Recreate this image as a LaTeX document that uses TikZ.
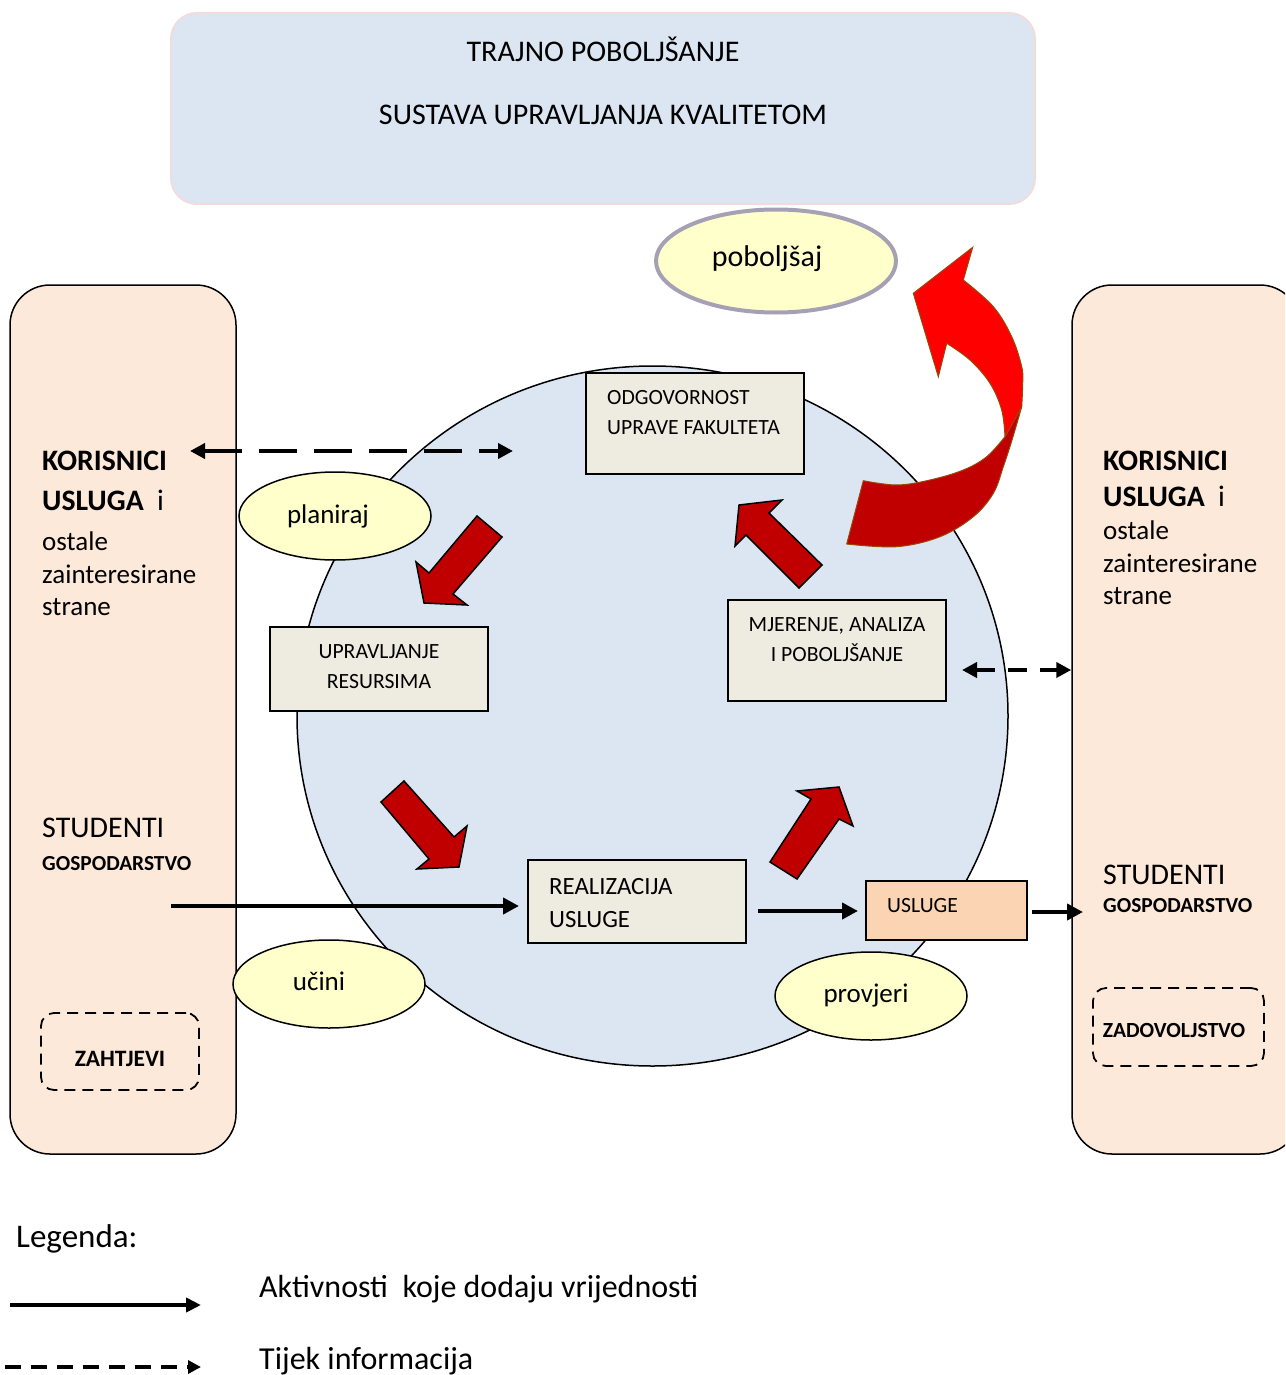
\documentclass[tikz,border=0pt]{standalone}
\usepackage{fontspec}
\setmainfont{Carlito}
\usetikzlibrary{arrows.meta,shapes.geometric}
\definecolor{bluefill}{HTML}{DCE6F2}
\definecolor{peach}{HTML}{FDE9D9}
\definecolor{yel}{HTML}{FFFFCC}
\definecolor{boxfill}{HTML}{EEECE1}
\definecolor{uslfill}{HTML}{FBD4B4}
\definecolor{darkred}{HTML}{C00000}
\definecolor{brightred}{HTML}{FF0000}
\definecolor{pinkborder}{HTML}{F2DCDB}
\definecolor{grayborder}{HTML}{A6A0B4}
\definecolor{brownedge}{HTML}{984807}
\newcommand\fsz[1]{\fontsize{#1}{#1}\selectfont}
\begin{document}
\begin{tikzpicture}[x=1pt,y=-1pt,
  panel/.style={draw=black, line width=1.5pt, fill=peach, rounded corners=40pt, inner sep=0pt},
  procbox/.style={draw=black, line width=1.5pt, fill=boxfill, inner sep=0pt},
  oval/.style={ellipse, draw=black, line width=1.5pt, fill=yel, inner sep=0pt, minimum width=192pt, minimum height=88pt},
  dbox/.style={draw=black, line width=1.8pt, dash pattern=on 11pt off 7pt, rounded corners=13pt, inner sep=0pt},
  lab/.style={inner sep=0pt, anchor=base west},
  labc/.style={inner sep=0pt, anchor=base},
  redblock/.style={fill=darkred, draw=black, line width=1.5pt, line join=miter},
  valarrow/.style={line width=4pt, -{Triangle[length=16pt,width=16pt]}},
  infoarrow/.style={line width=4.5pt, {Triangle[length=15pt,width=15pt]}-{Triangle[length=15pt,width=15pt]}}
]
\path[use as bounding box] (0,0) rectangle (1285,1375);
\clip (0,0) rectangle (1285,1375);
\fill[white] (0,0) rectangle (1285,1375);

% top box
\node[draw=pinkborder, line width=2pt, fill=bluefill, rounded corners=26pt, minimum width=864pt, minimum height=191pt, inner sep=0pt] (top) at (603,108.5) {};
\node[labc, font=\fsz{30}] (t1) at (603,61.5) {TRAJNO POBOLJŠANJE};
\node[labc, font=\fsz{30}] (t2) at (603,124.5) {SUSTAVA UPRAVLJANJA KVALITETOM};

% poboljsaj
\node[ellipse, draw=grayborder, line width=4pt, fill=yel, minimum width=240pt, minimum height=103pt, inner sep=0pt] (pob) at (776,261) {};
\node[labc, font=\fsz{30}] (pobt) at (767,266) {poboljšaj};

% panels
\node[panel, minimum width=226pt, minimum height=869pt] (lp) at (123,719.5) {};
\node[panel, minimum width=228pt, minimum height=869pt] (rp) at (1186,719.5) {};

% big circle
\node[ellipse, draw=black, line width=1.5pt, fill=bluefill, minimum width=711pt, minimum height=700pt, inner sep=0pt] (circ) at (652.5,716) {};

% left panel texts
\node[lab, font=\fsz{29.7}\bfseries] (lk) at (42,470) {KORISNICI};
\node[lab, font=\fsz{29.7}] (lu) at (42,510) {\textbf{USLUGA}\ \ i};
\node[lab, font=\fsz{27}] (lo) at (42,550) {ostale};
\node[lab, font=\fsz{27}] (lz) at (42,583) {zainteresirane};
\node[lab, font=\fsz{27}] (ls) at (42,615) {strane};
\node[lab, font=\fsz{30}] (lst) at (42,837) {STUDENTI};
\node[lab, font=\fsz{21.4}\bfseries] (lg) at (42,870) {GOSPODARSTVO};
\node[dbox, minimum width=158pt, minimum height=77pt] (zah) at (120,1051.5) {};
\node[labc, font=\fsz{23.5}\bfseries] (zaht) at (120,1066) {ZAHTJEVI};

% right panel texts
\node[lab, font=\fsz{29.7}\bfseries] (rk) at (1103,470) {KORISNICI};
\node[lab, font=\fsz{29.7}] (ru) at (1103,506) {\textbf{USLUGA}\ \ i};
\node[lab, font=\fsz{27}] (ro) at (1103,539) {ostale};
\node[lab, font=\fsz{27}] (rz) at (1103,572) {zainteresirane};
\node[lab, font=\fsz{27}] (rs) at (1103,604) {strane};
\node[lab, font=\fsz{30}] (rst) at (1103,884) {STUDENTI};
\node[lab, font=\fsz{21.4}\bfseries] (rg) at (1103,912) {GOSPODARSTVO};
\node[dbox, minimum width=171pt, minimum height=78pt] (zad) at (1178.5,1027) {};
\node[labc, font=\fsz{21.6}\bfseries] (zadt) at (1174,1037) {ZADOVOLJSTVO};

% dashed info arrows
\coordinate (d1a) at (190,451);
\coordinate (d1b) at (513,451);
\draw[infoarrow, dash pattern=on 38pt off 17pt] (d1a) -- (d1b);
\coordinate (d2a) at (962,670);
\draw[infoarrow, dash pattern=on 19pt off 13pt] (d2a) -- (rp.west |- d2a);

% process boxes
\node[procbox, minimum width=218pt, minimum height=101pt] (odg) at (695,423.5) {};
\node[lab, font=\fsz{21.7}] (odg1) at (607,404) {ODGOVORNOST};
\node[lab, font=\fsz{21.7}] (odg2) at (607,434) {UPRAVE FAKULTETA};

\node[procbox, minimum width=218pt, minimum height=84pt] (upr) at (379,669) {};
\node[labc, font=\fsz{21.7}] (upr1) at (379,658) {UPRAVLJANJE};
\node[labc, font=\fsz{21.7}] (upr2) at (379,688) {RESURSIMA};

\node[procbox, minimum width=218pt, minimum height=101pt] (mje) at (837,650.5) {};
\node[labc, font=\fsz{21.7}] (mje1) at (837,631) {MJERENJE, ANALIZA};
\node[labc, font=\fsz{21.7}] (mje2) at (837,661) {I POBOLJŠANJE};

\node[procbox, minimum width=218pt, minimum height=83pt] (rea) at (637,901.5) {};
\node[lab, font=\fsz{24.8}] (rea1) at (549,894) {REALIZACIJA};
\node[lab, font=\fsz{24.8}] (rea2) at (549,927) {USLUGE};

\node[procbox, fill=uslfill, minimum width=161pt, minimum height=59pt] (usl) at (946.5,910.5) {};
\node[lab, font=\fsz{21.7}] (uslt) at (887,912) {USLUGE};

% ovals
\node[oval] (plan) at (335,516) {};
\node[labc, font=\fsz{27}] (plant) at (328,523) {planiraj};
\node[oval] (ucin) at (329,984) {};
\node[labc, font=\fsz{27}] (ucint) at (319,990) {učini};
\node[oval] (prov) at (871,996) {};
\node[labc, font=\fsz{27}] (provt) at (866,1002) {provjeri};

% red block arrows
\draw[redblock] (477,516) -- (429,573) -- (416,562) -- (424,603) -- (467,605) -- (453,594) -- (502,537) -- cycle;
\draw[redblock] (381,802) -- (404,781) -- (454,837) -- (467,826) -- (459,867) -- (417,869) -- (429,859) -- cycle;
\draw[redblock] (770,862) -- (811,799) -- (797,791) -- (839,787) -- (853,826) -- (839,819) -- (797,879) -- cycle;
\draw[redblock] (739,505) -- (782,500) -- (769,513) -- (822,565) -- (799,588) -- (746,535) -- (735,546) -- cycle;

% curved improvement arrow
\filldraw[fill=darkred, draw=brownedge, line width=1pt, line join=round]
  (1021.7,406.7) -- plot[smooth, tension=0.6] coordinates {(1021.7,406.7) (1012,440) (1003.3,466.7) (993.3,493.3) (973.3,516.7) (940,536.7) (896.7,546.7) (846.7,544)}
  -- (863.3,480.7)
  -- plot[smooth, tension=0.6] coordinates {(863.3,480.7) (896.7,485) (930,480) (963.3,470) (986.7,456.7) (1005,436.7)}
  -- cycle;
\filldraw[fill=brightred, draw=brownedge, line width=1pt, line join=miter]
  (1005,436.7) -- plot[smooth, tension=0.6] coordinates {(1005,436.7) (1001.7,410) (990,383.3) (970,360) (946.7,343.3)}
  -- (938.3,376.7) -- (913.3,293.3) -- (972.7,247.3) -- (963.3,280)
  -- plot[smooth, tension=0.6] coordinates {(963.3,280) (993.3,306.7) (1011.7,336.7) (1021.7,366.7) (1022.7,383.3) (1021.7,406.7)}
  -- cycle;

% value-adding arrows
\coordinate (s1) at (171,906);
\coordinate (s1e) at (519,906);
\draw[valarrow] (s1) -- (s1e);
\coordinate (s2) at (758,911);
\coordinate (s2e) at (858,911);
\draw[valarrow] (s2) -- (s2e);
\coordinate (s3) at (1032,912);
\coordinate (s3e) at (1083,912);
\draw[valarrow] (s3) -- (s3e);

% legend
\node[lab, font=\fsz{33}] (leg) at (16,1247) {Legenda:};
\coordinate (la) at (10,1305);
\coordinate (lb) at (201,1305);
\draw[line width=4pt, -{Triangle[length=15pt,width=14pt]}] (la) -- (lb);
\node[lab, font=\fsz{32}] (legt1) at (259,1297) {Aktivnosti\ \ koje dodaju vrijednosti};
\coordinate (lc) at (5,1367);
\coordinate (ld) at (201,1367);
\draw[line width=4.5pt, dash pattern=on 16pt off 10pt, -{Triangle[length=13pt,width=13pt]}] (lc) -- (ld);
\node[lab, font=\fsz{32}] (legt2) at (259,1369) {Tijek informacija};
\end{tikzpicture}
\end{document}
